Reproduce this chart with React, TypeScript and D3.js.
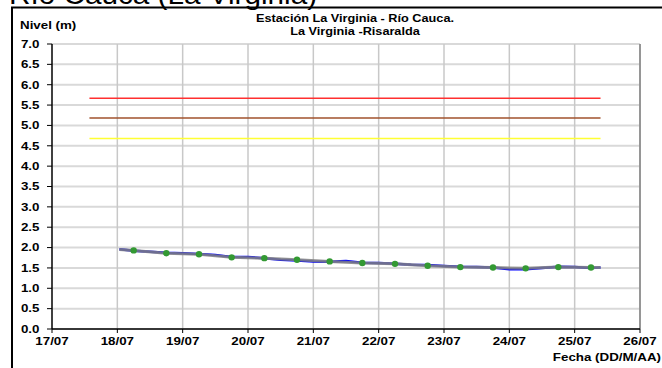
import React from "react";
import * as d3 from "d3";

// ---- Data ----
const dayTicks = ["2014-07-17", "2014-07-18", "2014-07-19", "2014-07-20", "2014-07-21", "2014-07-22", "2014-07-23", "2014-07-24", "2014-07-25", "2014-07-26"];
const yTicks = [0, 0.5, 1, 1.5, 2, 2.5, 3, 3.5, 4, 4.5, 5, 5.5, 6, 6.5, 7];

const blueTimes = [
  "2014-07-18 00:45", "2014-07-18 06:00", "2014-07-18 12:00", "2014-07-18 18:00",
  "2014-07-19 00:00", "2014-07-19 06:00", "2014-07-19 12:00", "2014-07-19 18:00",
  "2014-07-20 00:00", "2014-07-20 06:00", "2014-07-20 12:00", "2014-07-20 18:00",
  "2014-07-21 00:00", "2014-07-21 06:00", "2014-07-21 12:00", "2014-07-21 18:00",
  "2014-07-22 00:00", "2014-07-22 06:00", "2014-07-22 12:00", "2014-07-22 18:00",
  "2014-07-23 00:00", "2014-07-23 06:00", "2014-07-23 12:00", "2014-07-23 18:00",
  "2014-07-24 00:00", "2014-07-24 06:00", "2014-07-24 12:00", "2014-07-24 18:00",
  "2014-07-25 00:00", "2014-07-25 06:00", "2014-07-25 09:30",
];
const blueValues = [
  1.96, 1.92, 1.9, 1.87,
  1.86, 1.84, 1.82, 1.77,
  1.77, 1.74, 1.7, 1.68,
  1.66, 1.65, 1.67, 1.63,
  1.62, 1.6, 1.58, 1.57,
  1.55, 1.53, 1.52, 1.51,
  1.47, 1.47, 1.5, 1.53,
  1.52, 1.5, 1.51,
];

const grayTimes = [
  "2014-07-18 00:45", "2014-07-18 06:00", "2014-07-18 18:00", "2014-07-19 06:00", "2014-07-19 18:00",
  "2014-07-20 06:00", "2014-07-20 18:00", "2014-07-21 06:00", "2014-07-21 18:00",
  "2014-07-22 06:00", "2014-07-22 18:00", "2014-07-23 06:00", "2014-07-23 18:00",
  "2014-07-24 06:00", "2014-07-24 18:00", "2014-07-25 06:00", "2014-07-25 09:30",
];
const grayValues = [1.95, 1.93, 1.86, 1.835, 1.76, 1.74, 1.7, 1.66, 1.62, 1.6, 1.555, 1.52, 1.51, 1.49, 1.52, 1.51, 1.51];

const greenTimes = grayTimes.slice(1, 16);
const greenValues = grayValues.slice(1, 16);

const thresholdStart = "2014-07-17 13:45";
const thresholdEnd = "2014-07-25 09:30";
const thresholdValues = [5.67, 5.18, 4.68];
const thresholdColors = ["#ff3030", "#a0522d", "#ffff33"];

const parse = d3.timeParse("%Y-%m-%d %H:%M");
const parseDay = d3.timeParse("%Y-%m-%d");

const SX = 1.27;

function T({ x, y, anchor = "start", size = 10.5, bold = true, sx = SX, children }: any) {
  return (
    <g transform={`translate(${x},${y}) scale(${sx},1)`}>
      <text x={0} y={0} textAnchor={anchor} fontSize={size} fontWeight={bold ? "bold" : "normal"} fill="#000">
        {children}
      </text>
    </g>
  );
}

export default function App() {
  const W = 662, H = 368;
  const left = 52, right = 640, top = 44, bottom = 329;
  const x = d3.scaleTime().domain([parseDay(dayTicks[0])!, parseDay(dayTicks[dayTicks.length - 1])!]).range([left, right]);
  const y = d3.scaleLinear().domain([0, 7]).range([bottom, top]);
  const fmt = d3.timeFormat("%d/%m");

  const line = d3.line<[Date, number]>().x((d) => x(d[0])).y((d) => y(d[1]));
  const blue = blueTimes.map((t, i) => [parse(t)!, blueValues[i]] as [Date, number]);
  const gray = grayTimes.map((t, i) => [parse(t)!, grayValues[i]] as [Date, number]);
  const green = greenTimes.map((t, i) => [parse(t)!, greenValues[i]] as [Date, number]);

  const font = "Arial, 'Liberation Sans', sans-serif";

  return (
    <svg width={W} height={H} style={{ position: "absolute", left: 0, top: 0, background: "#fff" }} fontFamily={font}>
      <T x={9} y={4} size={27} bold={false} sx={1.1}>Río Cauca (La Virginia)</T>
      <rect x={12} y={7.5} width={700} height={400} fill="none" stroke="#000" strokeWidth={2} />

      {/* grid */}
      {yTicks.map((v) => (
        <line key={"gy" + v} x1={left} x2={right} y1={y(v)} y2={y(v)} stroke="#d9d9d9" strokeWidth={2} />
      ))}
      {dayTicks.slice(1).map((d) => (
        <line key={"gx" + d} x1={x(parseDay(d)!)} x2={x(parseDay(d)!)} y1={top} y2={bottom} stroke="#c8c8c8" strokeWidth={1.5} />
      ))}
      <line x1={right} x2={right} y1={top} y2={bottom} stroke="#808080" strokeWidth={1.5} />

      {/* thresholds */}
      {thresholdValues.map((v, i) => (
        <line key={"th" + i} x1={x(parse(thresholdStart)!)} x2={x(parse(thresholdEnd)!)} y1={y(v)} y2={y(v)} stroke={thresholdColors[i]} strokeWidth={1.5} />
      ))}

      {/* data */}
      <path d={line(blue)!} fill="none" stroke="#0000ff" strokeWidth={2.5} />
      <path d={line(gray)!} fill="none" stroke="#808080" strokeWidth={3} strokeOpacity={0.85} />
      {green.map((d, i) => (
        <circle key={"g" + i} cx={x(d[0])} cy={y(d[1])} r={3.2} fill="#339933" />
      ))}

      {/* axes */}
      <line x1={left} x2={left} y1={top} y2={bottom} stroke="#000" strokeWidth={1.5} />
      <line x1={left} x2={right} y1={bottom} y2={bottom} stroke="#000" strokeWidth={1.5} />
      {yTicks.map((v) => (
        <g key={"yt" + v}>
          <line x1={left - 5} x2={left} y1={y(v)} y2={y(v)} stroke="#000" strokeWidth={1} />
          <T x={39.5} y={y(v) + 3.8} anchor="end">{v.toFixed(1)}</T>
        </g>
      ))}
      {dayTicks.map((d) => (
        <g key={"xt" + d}>
          <line x1={x(parseDay(d)!)} x2={x(parseDay(d)!)} y1={bottom} y2={bottom + 4} stroke="#000" strokeWidth={1} />
          <T x={x(parseDay(d)!)} y={344.5} anchor="middle">{fmt(parseDay(d)!)}</T>
        </g>
      ))}

      <T x={20} y={29}>Nivel (m)</T>
      <T x={355} y={22} anchor="middle" size={10}>Estación La Virginia  - Río Cauca.</T>
      <T x={355} y={35} anchor="middle" size={10}>La Virginia -Risaralda</T>
      <T x={661} y={361} anchor="end">Fecha (DD/M/AA)</T>
    </svg>
  );
}
